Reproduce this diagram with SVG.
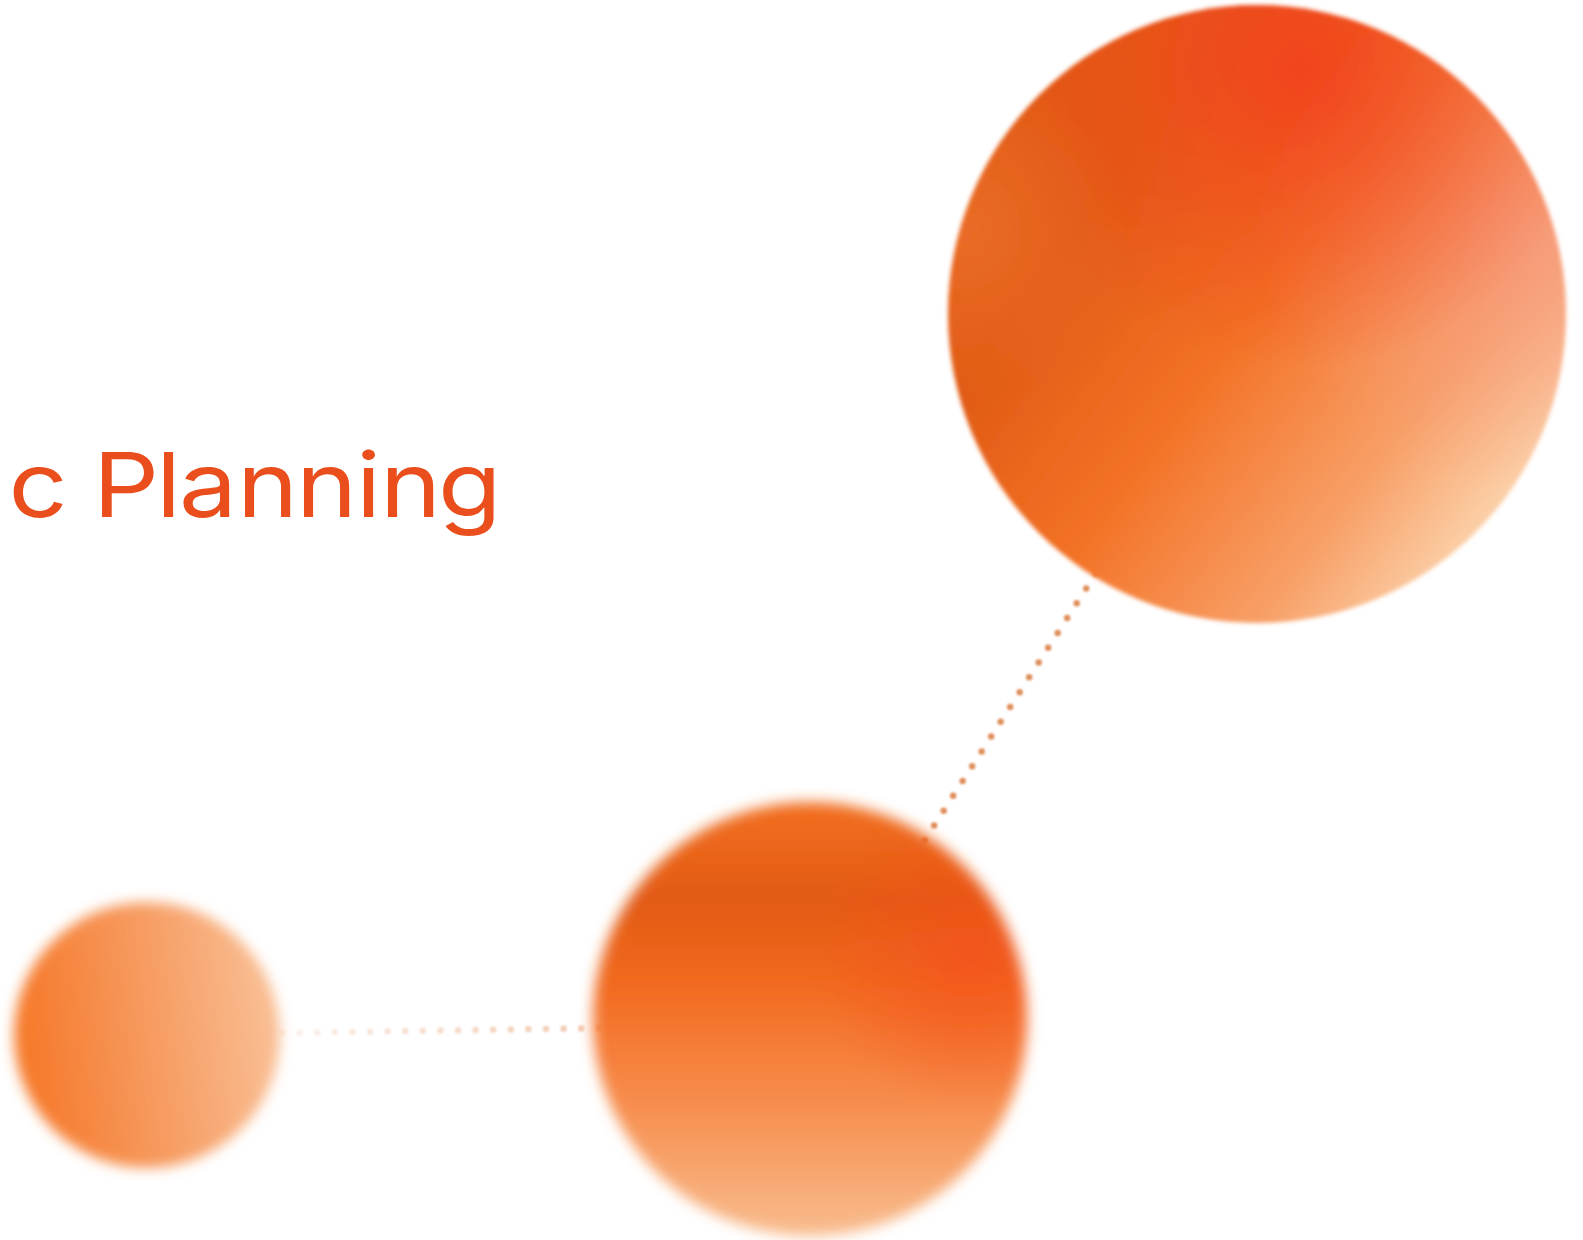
<svg xmlns="http://www.w3.org/2000/svg" width="1583" height="1240" viewBox="0 0 1583 1240">
  <style>
    .label { font-family: Inter, "Noto Sans", "Liberation Sans", sans-serif; font-size: 90px; font-weight: 400; fill: #E94E1C; }
    .dots { fill: none; stroke-linecap: round; stroke-width: 6.5; stroke-dasharray: 0 17.6; }
  </style>
  <defs>
    <!-- soft edges for the spheres -->
    <filter id="softBig" x="-10%" y="-10%" width="120%" height="120%"><feGaussianBlur stdDeviation="2.2"/></filter>
    <filter id="softMid" x="-15%" y="-15%" width="130%" height="130%"><feGaussianBlur stdDeviation="7"/></filter>
    <filter id="softSmall" x="-20%" y="-20%" width="140%" height="140%"><feGaussianBlur stdDeviation="6.5"/></filter>
    <filter id="softDot" x="-5%" y="-5%" width="110%" height="110%"><feGaussianBlur stdDeviation="0.9"/></filter>

    <clipPath id="clipBig"><circle cx="1257" cy="314" r="309"/></clipPath>
    <clipPath id="clipMid"><circle cx="810" cy="1019" r="217"/></clipPath>

    <!-- large sphere -->
    <linearGradient id="bigBase" gradientUnits="userSpaceOnUse" x1="1060" y1="250" x2="1500" y2="580">
      <stop offset="0" stop-color="#E05A14"/>
      <stop offset="0.35" stop-color="#F37226"/>
      <stop offset="0.7" stop-color="#F8A068"/>
      <stop offset="1" stop-color="#FCE2C0"/>
    </linearGradient>
    <radialGradient id="bigRed" gradientUnits="userSpaceOnUse" cx="1300" cy="70" r="300">
      <stop offset="0" stop-color="#F4401F" stop-opacity="0.9"/>
      <stop offset="0.55" stop-color="#F24A1E" stop-opacity="0.45"/>
      <stop offset="1" stop-color="#F24A1E" stop-opacity="0"/>
    </radialGradient>
    <radialGradient id="bigPink" gradientUnits="userSpaceOnUse" cx="1520" cy="230" r="260">
      <stop offset="0" stop-color="#F69A82" stop-opacity="0.7"/>
      <stop offset="1" stop-color="#F69A82" stop-opacity="0"/>
    </radialGradient>
    <radialGradient id="bigGlow" gradientUnits="userSpaceOnUse" cx="960" cy="230" r="170">
      <stop offset="0" stop-color="#F5823C" stop-opacity="0.45"/>
      <stop offset="1" stop-color="#F5823C" stop-opacity="0"/>
    </radialGradient>

    <!-- middle sphere -->
    <linearGradient id="midBase" gradientUnits="userSpaceOnUse" x1="0" y1="805" x2="0" y2="1235">
      <stop offset="0" stop-color="#F26E20"/>
      <stop offset="0.22" stop-color="#E25A12"/>
      <stop offset="0.42" stop-color="#F26A20"/>
      <stop offset="0.7" stop-color="#F78E4E"/>
      <stop offset="1" stop-color="#F8BC8E"/>
    </linearGradient>
    <radialGradient id="midRed" gradientUnits="userSpaceOnUse" cx="970" cy="960" r="150">
      <stop offset="0" stop-color="#F5501C" stop-opacity="0.7"/>
      <stop offset="1" stop-color="#F5501C" stop-opacity="0"/>
    </radialGradient>

    <!-- small sphere -->
    <linearGradient id="smallBase" gradientUnits="userSpaceOnUse" x1="30" y1="1050" x2="280" y2="1020">
      <stop offset="0" stop-color="#F67A2C"/>
      <stop offset="0.5" stop-color="#F79C62"/>
      <stop offset="1" stop-color="#F9C096"/>
    </linearGradient>

    <linearGradient id="fadeDots" gradientUnits="userSpaceOnUse" x1="280" y1="0" x2="600" y2="0">
      <stop offset="0" stop-color="#E9A47A" stop-opacity="0.15"/>
      <stop offset="1" stop-color="#E9A47A" stop-opacity="0.6"/>
    </linearGradient>
  </defs>

  <rect width="1583" height="1240" fill="#FFFFFF"/>

  <!-- dotted connectors, drawn centre to centre beneath the spheres -->
  <g id="connectors" filter="url(#softDot)">
    <line class="dots" x1="1261" y1="316" x2="810" y2="1019" stroke="#DF8F5C" stroke-dashoffset="10.7"/>
    <line class="dots" x1="147" y1="1035" x2="810" y2="1025" stroke="url(#fadeDots)" stroke-dashoffset="5.8"/>
  </g>

  <g id="node-big" filter="url(#softBig)">
    <g clip-path="url(#clipBig)">
      <rect x="940" y="0" width="640" height="630" fill="url(#bigBase)"/>
      <rect x="940" y="0" width="640" height="630" fill="url(#bigPink)"/>
      <rect x="940" y="0" width="640" height="630" fill="url(#bigRed)"/>
      <rect x="940" y="0" width="640" height="630" fill="url(#bigGlow)"/>
    </g>
  </g>

  <g id="node-mid" filter="url(#softMid)">
    <g clip-path="url(#clipMid)">
      <rect x="585" y="795" width="450" height="450" fill="url(#midBase)"/>
      <rect x="585" y="795" width="450" height="450" fill="url(#midRed)"/>
    </g>
  </g>

  <g id="node-small" filter="url(#softSmall)">
    <circle cx="147" cy="1035" r="133" fill="url(#smallBase)"/>
  </g>

  <!-- heading, widened to the lettering's proportions -->
  <g id="label" transform="scale(1.15 1)">
    <text class="label" x="7.3 50 80.9 135.7 155.7 206 257.4 309.6 330.4 380.9" y="517">c Planning</text>
  </g>
</svg>
